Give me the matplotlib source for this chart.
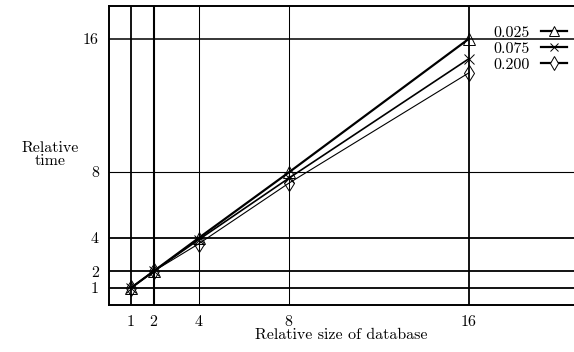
import matplotlib
matplotlib.use("Agg")
import matplotlib.pyplot as plt
from matplotlib.lines import Line2D

sizes = [1, 2, 4, 8, 16]
labels = ["0.025", "0.075", "0.200"]
s025 = [1, 2, 4.0, 7.95, 16.0]
s075 = [1, 2, 3.9, 7.6, 14.8]
s200 = [1, 2, 3.65, 7.3, 13.95]
xticks = [1, 2, 4, 8, 16]
yticks = [1, 2, 4, 8, 16]

plt.rcParams['font.family'] = ['cmr10', 'DejaVu Serif']
plt.rcParams['axes.formatter.use_mathtext'] = True
plt.rcParams['font.size'] = 11.5

fig = plt.figure(figsize=(5.74, 3.52), dpi=100)
ax = fig.add_axes([108.5/574, (352-304.5)/352, 1-108.5/574, 299/352])
ax.set_xlim(0, (574-108.5)/22.53)
ax.set_ylim(0, 18)

# grid lines
vw = {1: 1.3, 2: 1.5, 4: 0.75, 8: 0.75, 16: 1.3}
hw = {1: 1.3, 2: 1.3, 4: 1.3, 8: 0.8, 16: 1.1}
for v in xticks:
    ax.axvline(v, color='black', lw=vw[v], zorder=1)
for h in yticks:
    ax.axhline(h, color='black', lw=hw[h], zorder=1)

series = [s025, s075, s200]
markers = ['^', 'x', 'd']
lws = [1.6, 1.2, 0.8]
msz = [8, 7, 8]
handles = []
for vals, lab, m, lw, ms in zip(series, labels, markers, lws, msz):
    ax.plot(sizes, vals, color='black', lw=lw, marker=m, ms=ms,
            mfc='none', mec='black', mew=0.7, zorder=3)
    handles.append(Line2D([], [], color='black', lw=1.6, marker=m, ms=ms - 1,
                          mfc='white', mec='black', mew=0.7))

ax.legend(handles, labels, loc='upper right', bbox_to_anchor=(0.998, 0.955),
          frameon=False, markerfirst=False, handlelength=1.6,
          handletextpad=0.7, labelspacing=0.12, fontsize=11.5, borderaxespad=0)

ax.spines['right'].set_visible(False)
for side in ['left', 'top', 'bottom']:
    ax.spines[side].set_linewidth(1.4)

ax.set_xticks(xticks)
ax.set_xticklabels([str(t) for t in xticks])
ax.set_yticks(yticks)
ax.set_yticklabels(['1', '2', '4', '8', '16'])
ax.tick_params(axis='both', length=0, labelsize=11.5)
ax.tick_params(axis='x', pad=8)
ax.tick_params(axis='y', pad=7)

ax.set_xlabel('Relative size of database', labelpad=-1)
fig.text(50/574, 1-155/352, 'Relative\ntime', ha='center', va='center',
         fontsize=11.5, linespacing=0.95)

fig.savefig('out.png', dpi=100)
